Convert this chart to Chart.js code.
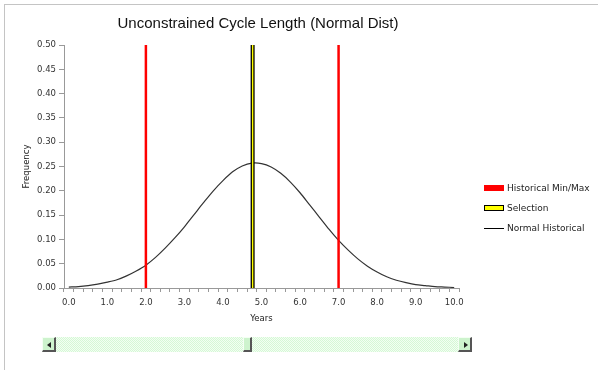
<!DOCTYPE html>
<html>
<head>
<meta charset="utf-8">
<script src="https://cdn.jsdelivr.net/npm/chart.js@4.4.0/dist/chart.umd.min.js"></script>
<style>
  body { margin: 0; background: #fff; }
  #wrap { position: relative; width: 598px; height: 370px; overflow: hidden; }
  #frame { position: absolute; left: 4px; top: 4px; width: 600px; height: 400px;
           border-left: 1px solid #c4c4c4; border-top: 1px solid #c4c4c4; }
  #title { position: absolute; left: 0; top: 14px; width: 516px; text-align: center;
           font: 15px "Liberation Sans", Arial, sans-serif; color: #111; }
  .legend { position: absolute; left: 484px; top: 178px; font: 9px "DejaVu Sans", sans-serif; color: #222; }
  .legend-item { height: 20px; display: flex; align-items: center; }
  .legend-key { width: 20px; margin-right: 3px; box-sizing: border-box; }
  .scroll { position: absolute; top: 337px; height: 15px; }
  #track { left: 42px; width: 430px;
           background: repeating-conic-gradient(#d6f7d6 0% 25%, #f2fff2 0% 50%) 0 0 / 2px 2px; }
  .btn { position: absolute; top: 0; width: 14px; height: 15px; box-sizing: border-box;
         background: #cdf3cd; border-top: 1px solid #f4fff4; border-left: 1px solid #f4fff4;
         border-right: 2px solid #555; border-bottom: 2px solid #555; }
  .arrow { position: absolute; top: 4px; width: 0; height: 0;
           border-top: 3px solid transparent; border-bottom: 3px solid transparent; }
</style>
</head>
<body>
<div id="wrap">
  <canvas id="chart" width="598" height="370"></canvas>
  <div id="frame"></div>
  <div id="title">Unconstrained Cycle Length (Normal Dist)</div>
  <div class="legend"></div>
  <div id="track" class="scroll">
    <div class="btn" style="left:0"><div class="arrow" style="left:4px;border-right:4px solid #222"></div></div>
    <div class="btn" style="left:201px;width:9px"></div>
    <div class="btn" style="left:416px"><div class="arrow" style="left:5px;border-left:4px solid #222"></div></div>
  </div>
</div>
<script>
const years = [0, 0.25, 0.5, 0.75, 1, 1.25, 1.5, 1.75, 2, 2.25, 2.5, 2.75, 3, 3.25, 3.5, 3.75,
  4, 4.25, 4.5, 4.75, 5, 5.25, 5.5, 5.75, 6, 6.25, 6.5, 6.75, 7, 7.25, 7.5, 7.75,
  8, 8.25, 8.5, 8.75, 9, 9.25, 9.5, 9.75, 10];
const frequency = [0.002, 0.003, 0.005, 0.008, 0.012, 0.017, 0.025, 0.035, 0.047, 0.063, 0.082,
  0.103, 0.126, 0.151, 0.176, 0.200, 0.221, 0.239, 0.251, 0.257, 0.256, 0.249, 0.236, 0.218,
  0.196, 0.171, 0.146, 0.121, 0.098, 0.078, 0.060, 0.045, 0.033, 0.023, 0.016, 0.011, 0.007,
  0.005, 0.003, 0.002, 0.001];
const historicalMinMax = [2.0, 7.0];
const selection = 4.77;
const yTicks = [0, 0.05, 0.10, 0.15, 0.20, 0.25, 0.30, 0.35, 0.40, 0.45, 0.50];

const legendItems = [
  { label: 'Historical Min/Max', style: 'height:6px;background:#ff0000' },
  { label: 'Selection', style: 'height:6px;background:#ffff00;border:1px solid #000' },
  { label: 'Normal Historical', style: 'height:1px;background:#000' }
];
document.querySelector('.legend').innerHTML = legendItems.map(l => `
  <div class="legend-item"><div class="legend-key" style="${l.style}"></div>${l.label}</div>
`).join('');

// vertical marker lines live on a hidden linear axis matching the category axis bounds
const vline = (x, color, width) => ({
  type: 'line', xAxisID: 'x2', data: [{ x: x, y: 0 }, { x: x, y: 0.5 }],
  borderColor: color, borderWidth: width, pointRadius: 0
});

const tickFont = { family: 'DejaVu Sans', size: 8.5 };

// dataset 0 is painted on top
new Chart(document.getElementById('chart'), {
  type: 'line',
  data: {
    labels: years,
    datasets: [
      vline(selection, '#ffff00', 1.4),
      vline(selection, '#000', 4),
      ...historicalMinMax.map(x => vline(x, '#ff0000', 2.5)),
      { data: frequency, borderColor: '#333', borderWidth: 1.2, pointRadius: 0, tension: 0.3 }
    ]
  },
  options: {
    responsive: false,
    animation: false,
    layout: { padding: { left: 22, right: 139, top: 45, bottom: 42 } },
    plugins: { legend: { display: false }, tooltip: { enabled: false }, title: { display: false } },
    scales: {
      x: {
        type: 'category',
        offset: true,
        afterFit: s => { s.height = 40; },
        grid: { offset: true, drawOnChartArea: false, tickLength: 4, color: '#999' },
        border: { color: '#999' },
        ticks: {
          autoSkip: false, maxRotation: 0, padding: 6, color: '#333', font: tickFont,
          callback: (v, i) => i % 4 === 0 ? years[i].toFixed(1) : ''
        },
        title: { display: true, text: 'Years', color: '#222', font: tickFont, padding: { top: 0, bottom: 4 } }
      },
      x2: { type: 'linear', display: false, min: -0.125, max: 10.125 },
      y: {
        min: 0, max: 0.5,
        afterFit: s => { s.width = 42; },
        afterBuildTicks: s => { s.ticks = yTicks.map(v => ({ value: v })); },
        grid: { drawOnChartArea: false, tickLength: 5, color: '#999' },
        border: { color: '#999' },
        ticks: { padding: 3, color: '#333', font: tickFont, callback: v => v.toFixed(2) },
        title: { display: true, text: 'Frequency', color: '#222', font: tickFont, padding: 0 }
      }
    }
  }
});
</script>
</body>
</html>
